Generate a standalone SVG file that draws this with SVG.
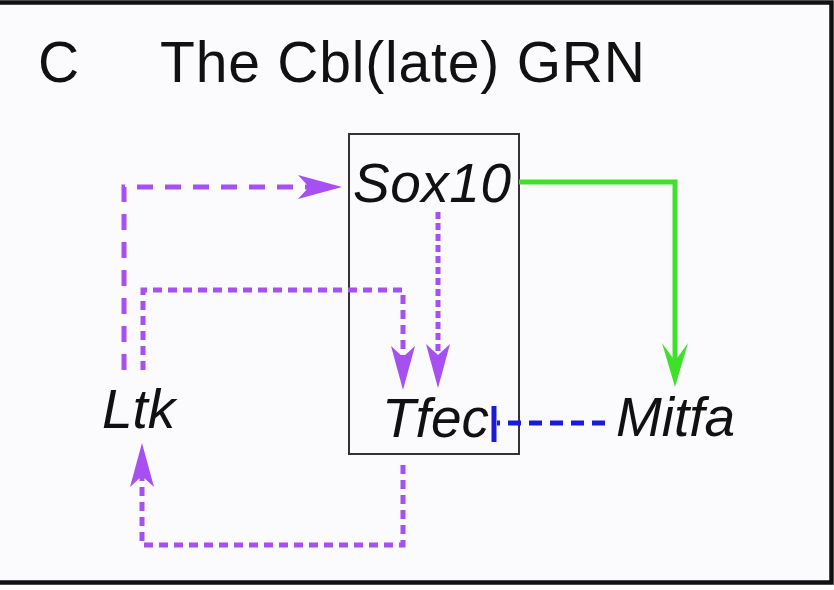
<svg xmlns="http://www.w3.org/2000/svg" width="834" height="590" viewBox="0 0 834 590">
<style>
.t{font-family:"Liberation Sans",Arial,sans-serif;fill:#111}
.g{font-family:"Liberation Sans",Arial,sans-serif;font-style:italic;font-size:55px;fill:#111}
.p{fill:none;stroke:#a650f2;stroke-width:5}
.gr{fill:none;stroke:#3fe02a;stroke-width:5}
.bl{fill:none;stroke:#1a1ad8;stroke-width:5}
</style>
<defs>
<marker id="ap" viewBox="0 0 44 24" refX="11" refY="12" markerWidth="44" markerHeight="24" markerUnits="userSpaceOnUse" orient="auto">
<path d="M0,0 L44,12 L0,24 L11,12 Z" fill="#a650f2"/>
</marker>
<marker id="ag" viewBox="0 0 44 26" refX="18" refY="13" markerWidth="44" markerHeight="26" markerUnits="userSpaceOnUse" orient="auto">
<path d="M0,0 L44,13 L0,26 L18,13 Z" fill="#3fe02a"/>
</marker>
</defs>
<rect x="0" y="0" width="834" height="590" fill="#ffffff"/>
<rect x="0" y="4" width="830" height="577" fill="#fbfbfd"/>
<path d="M0,2.5 H831.5 V582.5 H0" fill="none" stroke="#111" stroke-width="4.5"/>
<text class="t" x="38" y="82" font-size="57">C</text>
<text class="t" x="160" y="82" font-size="57" textLength="485" lengthAdjust="spacing">The Cbl(late) GRN</text>
<g id="box"><rect x="349" y="134" width="170" height="320" fill="none" stroke="#333" stroke-width="2"/></g>
<g id="connectors">
<path class="p" d="M124,370 V187 H309" stroke-dasharray="16 12" marker-end="url(#ap)"/>
<path class="p" d="M143,370 V290 H403 V357" stroke-dasharray="9 6" marker-end="url(#ap)"/>
<path class="p" d="M438,212 V355" stroke-dasharray="7 4" marker-end="url(#ap)"/>
<path class="p" d="M403,465 V545 H142 V476" stroke-dasharray="9 6" marker-end="url(#ap)"/>
<path class="gr" d="M519,182 H675 V361" marker-end="url(#ag)"/>
<path class="bl" d="M605,423 H497" stroke-dasharray="13 8"/>
<path class="bl" d="M494,406 V442"/>
</g>
<g id="sox10"><text class="g" x="353" y="202" textLength="158" lengthAdjust="spacing">Sox10</text></g>
<g id="tfec"><text class="g" x="382" y="437">Tfec</text></g>
<g id="ltk"><text class="g" x="102" y="428">Ltk</text></g>
<g id="mitfa"><text class="g" x="616" y="436">Mitfa</text></g>
</svg>
